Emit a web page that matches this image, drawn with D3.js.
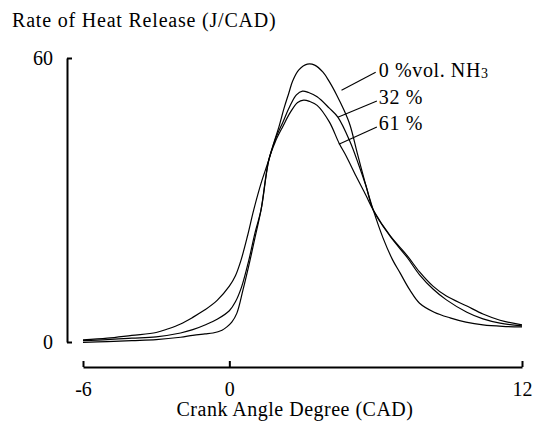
<!DOCTYPE html>
<html>
<head>
<meta charset="UTF-8">
<script src="https://d3js.org/d3.v7.min.js"></script>
<style>
  body { margin: 0; background: #fff; }
  svg { display: block; }
  text { fill: #000; font-family: "Liberation Serif", "Times New Roman", serif; font-size: 20px; }
</style>
</head>
<body>
<svg width="540" height="427"></svg>
<script>
// rate of heat release traces, [CAD, J/CAD]
const nh3_0 = [[-6,0.45],[-5,0.8],[-4,1.4],[-3,2.0],[-2.5,2.8],[-2,3.8],[-1.5,5.2],[-1,6.8],[-0.5,8.8],[0,11.8],
  [0.25,14.0],[0.48,17.3],[0.75,22.5],[1.0,27.9],[1.3,33.5],[1.62,38.5],[1.85,42.5],[2.03,45.4],[2.25,49.5],
  [2.44,52.6],[2.6,55.2],[2.85,57.5],[3.2,58.7],[3.5,58.5],[3.84,57],[4.1,55],[4.4,52.2],[4.7,49],[4.95,45.8],
  [5.24,40],[5.55,34],[5.9,27.9],[6.3,22],[6.7,17.3],[7.0,14.6],[7.4,11.0],[7.8,8.2],[8.4,6.3],[9.05,5.1],
  [9.7,4.2],[10.4,3.6],[11.2,3.3],[12,3.2]];
const nh3_32 = [[-6,0.3],[-5,0.5],[-4,0.8],[-3,1.1],[-2,1.9],[-1.5,2.6],[-1,3.6],[-0.5,4.8],[0,6.6],[0.25,8.5],
  [0.5,11.6],[0.8,17.3],[1.05,23],[1.3,27.9],[1.62,38.5],[1.9,43],[2.2,46.5],[2.5,50],[2.75,52.2],[3.0,53],
  [3.25,52.7],[3.6,51.8],[4.1,49.4],[4.45,47.5],[4.95,42.3],[5.3,37.5],[5.6,33],[5.9,27.9],[6.6,22.3],
  [7.3,17.8],[7.8,14.2],[8.35,11.2],[8.9,8.9],[9.74,6.3],[10.4,4.9],[11.1,4.0],[12,3.4]];
const nh3_61 = [[-6,-0.1],[-5,0.1],[-4,0.3],[-3,0.5],[-2,1.0],[-1.5,1.4],[-1,1.7],[-0.67,1.9],[-0.3,2.5],
  [-0.1,3.2],[0.1,4.2],[0.31,6.1],[0.56,11],[0.85,17.3],[1.05,22],[1.3,27.9],[1.62,38.5],[1.9,42.5],[2.2,45.6],
  [2.5,48.5],[2.8,50.6],[3.05,51.1],[3.3,50.8],[3.6,50],[4.1,46.5],[4.5,42],[4.8,39.2],[5.2,35],[5.6,31],
  [5.9,27.9],[6.6,22.4],[7.3,18.2],[7.8,14.8],[8.35,11.8],[8.9,9.7],[9.74,7.6],[10.4,5.9],[11.1,4.6],[12,3.6]];

const series = [nh3_0, nh3_32, nh3_61];
// leader lines run from the curve to the label, text sits just past the end
const labelText = ["0 %vol. NH", "32 %", "61 %"];
const leaderFrom = [[4.6,53.2],[4.45,47.5],[4.49,41.8]];
const leaderTo = [[6.0,57],[6.05,50.9],[6.05,45.4]];
const textAt = [[6.13,56],[6.13,50.3],[6.13,44.8]];

const xTicks = [-6, 0, 12];
const yTicks = [0, 60];

const svg = d3.select("svg");

const x = d3.scaleLinear().domain([-6, 12]).range([83, 522]);
const y = d3.scaleLinear().domain([0, 60]).range([342, 58]);

const xAxis = svg.append("g")
  .attr("transform", "translate(0,367)")
  .call(d3.axisBottom(x).tickValues(xTicks).tickSize(-6).tickSizeOuter(0).tickPadding(15));

const yAxis = svg.append("g")
  .attr("transform", "translate(67,0)")
  .call(d3.axisLeft(y).tickValues(yTicks).tickSize(-5).tickSizeOuter(0).tickPadding(14));

[xAxis, yAxis].forEach(g => {
  g.attr("font-family", null).attr("font-size", null);
  g.select(".domain").attr("stroke", "#000").attr("stroke-width", 2);
  g.selectAll(".tick line").attr("stroke", "#000").attr("stroke-width", 2);
  g.selectAll(".tick text").attr("fill", "#000");
});
xAxis.selectAll(".tick text").text(d => d < 0 ? "-" + Math.abs(d) : d);

const line = d3.line()
  .x(d => x(d[0]))
  .y(d => y(d[1]))
  .curve(d3.curveCatmullRom.alpha(0.5));

svg.append("g")
  .selectAll("path")
  .data(series)
  .join("path")
  .attr("d", line)
  .attr("fill", "none")
  .attr("stroke", "#000")
  .attr("stroke-width", 1.2);

svg.append("g")
  .selectAll("line")
  .data(leaderFrom)
  .join("line")
  .attr("x1", d => x(d[0])).attr("y1", d => y(d[1]))
  .attr("x2", (d, i) => x(leaderTo[i][0])).attr("y2", (d, i) => y(leaderTo[i][1]))
  .attr("stroke", "#000")
  .attr("stroke-width", 1.1);

const labels = svg.append("g")
  .selectAll("text")
  .data(labelText)
  .join("text")
  .attr("x", (d, i) => x(textAt[i][0]))
  .attr("y", (d, i) => y(textAt[i][1]))
  .style("letter-spacing", "0.6px")
  .text(d => d);
labels.filter((d, i) => i === 0)
  .append("tspan")
  .attr("dy", 1)
  .style("font-size", "14px")
  .text("3");

svg.append("text")
  .attr("x", 12).attr("y", 27)
  .style("letter-spacing", "0.8px")
  .text("Rate of Heat Release (J/CAD)");

svg.append("text")
  .attr("x", 295).attr("y", 416)
  .attr("text-anchor", "middle")
  .style("letter-spacing", "0.5px")
  .text("Crank Angle Degree (CAD)");
</script>
</body>
</html>
